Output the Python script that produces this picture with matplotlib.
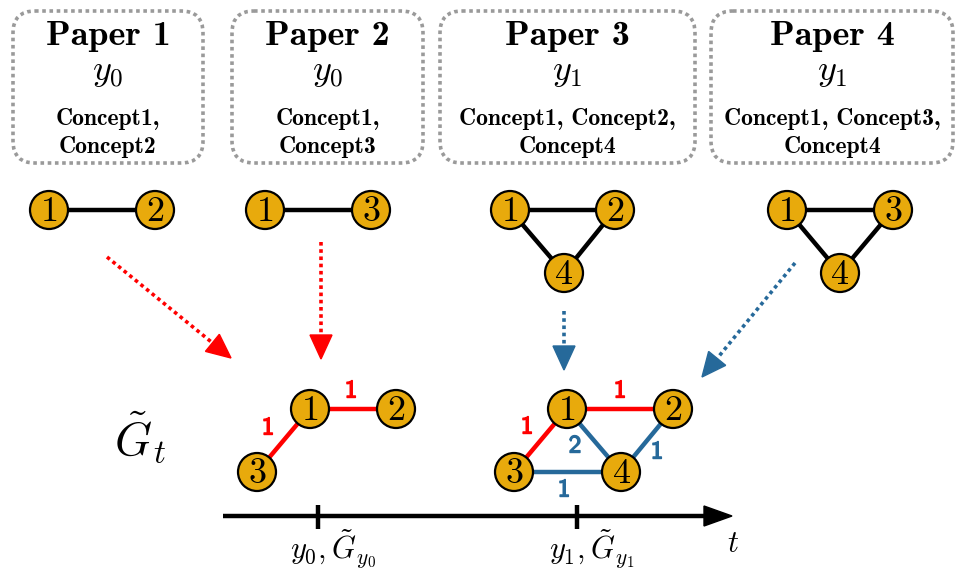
import numpy as np
import matplotlib
matplotlib.use("Agg")
import matplotlib.pyplot as plt
import matplotlib.patheffects as pe
from matplotlib.patches import FancyBboxPatch, Circle, Polygon

plt.rcParams['mathtext.fontset'] = 'cm'

# papers: title, year symbol, concepts
paper_titles = ["Paper 1", "Paper 2", "Paper 3", "Paper 4"]
paper_years = [r"$y_0$", r"$y_0$", r"$y_1$", r"$y_1$"]
paper_concepts = [["Concept1,", "Concept2"],
                  ["Concept1,", "Concept3"],
                  ["Concept1, Concept2,", "Concept4"],
                  ["Concept1, Concept3,", "Concept4"]]

# concept graph of each paper (node ids and edges)
paper_nodes = [[1, 2], [1, 3], [1, 2, 4], [1, 3, 4]]
paper_edges = [[(1, 2)], [(1, 3)], [(1, 2), (1, 4), (2, 4)], [(1, 3), (1, 4), (3, 4)]]

# accumulated graphs at y0 and y1: edges with weight and the year they come from
g0_edges = [(1, 2), (1, 3)]
g0_weights = [1, 1]
g0_source = ["y0", "y0"]
g1_edges = [(1, 2), (1, 3), (1, 4), (2, 4), (3, 4)]
g1_weights = [1, 1, 2, 1, 1]
g1_source = ["y0", "y0", "y1", "y1", "y1"]

tick_labels = [r"$y_0, \tilde{G}_{y_0}$", r"$y_1, \tilde{G}_{y_1}$"]

# ---- layout (pixel coords) ----
box_x = [(13, 203), (232, 423), (440, 695), (711, 953)]
box_y = (11, 163)
small_pos = [
    {1: (49, 210), 2: (155, 210)},
    {1: (265, 210), 3: (371, 210)},
    {1: (510, 210), 2: (615, 210), 4: (564, 273)},
    {1: (787, 210), 3: (893, 210), 4: (840, 273)},
]
g0_pos = {1: (310, 409), 2: (396, 409), 3: (257, 472)}
g1_pos = {1: (567, 409), 2: (673, 409), 3: (514, 472), 4: (621, 472)}
g0_label_pos = [(351, 391), (268, 428)]
g1_label_pos = [(620, 391), (527, 427), (575, 446), (657, 452), (564, 490)]

RED = "#ff0000"
BLUE = "#26699a"
NODE = "#e8aa0c"
GRAY = "#9a9a9a"
colors = {"y0": RED, "y1": BLUE}
R = 19

fig = plt.figure(figsize=(9.57, 5.71), dpi=100)
ax = fig.add_axes([0, 0, 1, 1])
ax.set_xlim(0, 957)
ax.set_ylim(571, 0)
ax.axis("off")


def draw_node(p, n):
    ax.add_patch(Circle(p, R, facecolor=NODE, edgecolor="black", lw=1.6, zorder=3))
    ax.text(p[0], p[1] + 1, f"${n}$", fontsize=26, ha="center", va="center", zorder=4)


def draw_graph(pos, edges, ecolors):
    for (a, b), c in zip(edges, ecolors):
        ax.plot([pos[a][0], pos[b][0]], [pos[a][1], pos[b][1]], color=c, lw=3.2,
                solid_capstyle="butt", zorder=2)
    for n, p in pos.items():
        draw_node(p, n)


def edge_labels(label_pos, weights, source):
    for (x, y), w, s in zip(label_pos, weights, source):
        ax.text(x, y, str(w), color=colors[s], fontsize=18, fontfamily="cmss10",
                ha="center", va="center",
                path_effects=[pe.withStroke(linewidth=1.0, foreground=colors[s])])


def dotted_arrow(start, tip, color):
    start = np.array(start, float)
    tip = np.array(tip, float)
    d = tip - start
    d /= np.hypot(*d)
    n = np.array([-d[1], d[0]])
    hl, hw = 24, 11
    base = tip - d * hl
    ax.plot([start[0], base[0]], [start[1], base[1]], color=color, lw=2.6,
            linestyle=(0, (1, 1)), zorder=2)
    ax.add_patch(Polygon([tip, base + n * hw, base - n * hw], closed=True,
                         facecolor=color, edgecolor=color, zorder=2))


# paper boxes
for i in range(4):
    x0, x1 = box_x[i]
    cx = (x0 + x1) / 2
    ax.add_patch(FancyBboxPatch((x0, box_y[0]), x1 - x0, box_y[1] - box_y[0],
                                boxstyle="round,pad=0,rounding_size=22",
                                facecolor="none", edgecolor=GRAY, lw=2.6,
                                linestyle=(0, (1, 1))))
    ax.text(cx, 37, paper_titles[i], fontfamily="cmb10", fontsize=26,
            ha="center", va="center")
    ax.text(cx, 72, paper_years[i], fontsize=26, ha="center", va="center")
    for j, line in enumerate(paper_concepts[i]):
        ax.text(cx, 119 + 28 * j, line, fontfamily="cmb10", fontsize=17,
                ha="center", va="center")
    draw_graph(small_pos[i], paper_edges[i], ["black"] * len(paper_edges[i]))

# arrows from papers to accumulated graph
dotted_arrow((107, 257), (231, 358), RED)
dotted_arrow((321, 242), (321, 359), RED)
dotted_arrow((564, 311), (564, 370), BLUE)
dotted_arrow((795, 263), (702, 377), BLUE)

# accumulated graphs
draw_graph(g0_pos, g0_edges, [colors[s] for s in g0_source])
edge_labels(g0_label_pos, g0_weights, g0_source)
draw_graph(g1_pos, g1_edges, [colors[s] for s in g1_source])
edge_labels(g1_label_pos, g1_weights, g1_source)

ax.text(140, 437, r"$\tilde{G}_t$", fontsize=34, ha="center", va="center")

# time axis
ax.plot([223, 706], [516, 516], color="black", lw=3.2, solid_capstyle="butt")
ax.add_patch(Polygon([(732, 516), (704, 506), (704, 526)], closed=True,
                     facecolor="black", edgecolor="black"))
for x, lab in zip([318, 577], tick_labels):
    ax.plot([x, x], [505, 529], color="black", lw=3.2, solid_capstyle="butt")
    ax.text(x + 15, 549, lab, fontsize=22, ha="center", va="center")
ax.text(733, 543, r"$t$", fontsize=22, ha="center", va="center")

fig.savefig("out.png", dpi=100)
